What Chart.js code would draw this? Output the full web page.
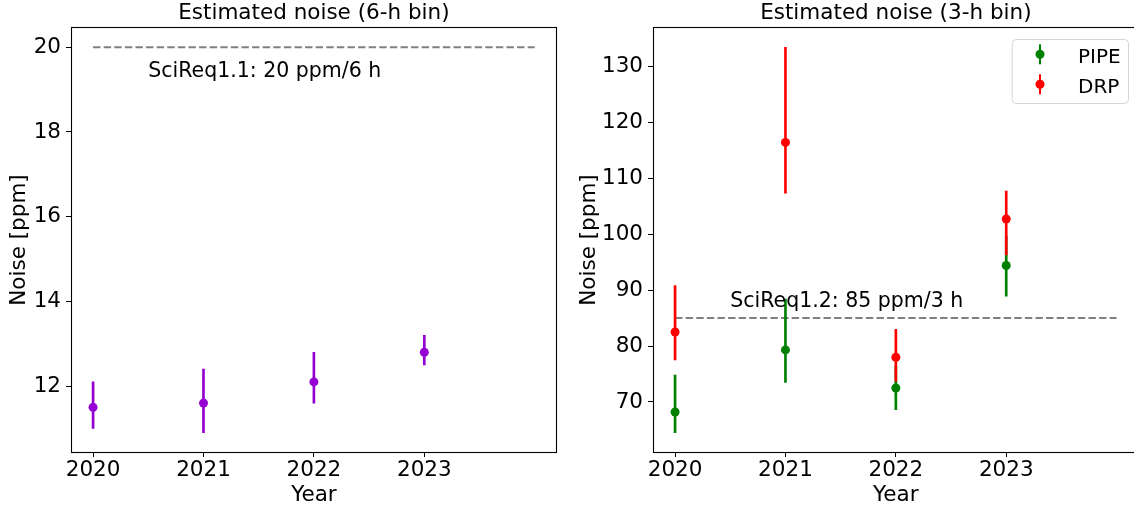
<!DOCTYPE html>
<html>
<head>
<meta charset="utf-8">
<script src="https://cdn.jsdelivr.net/npm/chart.js@4"></script>
<style>
  html, body { margin: 0; padding: 0; background: #fff; overflow: hidden; width: 1134px; height: 508px; }
  #left { position: absolute; left: 0; top: 0; }
  #right { position: absolute; left: 567px; top: 0; }
</style>
</head>
<body>
<canvas id="left" width="567" height="508"></canvas>
<canvas id="right" width="580" height="508"></canvas>
<script>
// data
const years = [2020, 2021, 2022, 2023];

const noise6h = [11.5, 11.6, 12.1, 12.8];
const noise6hLow = [11.0, 10.9, 11.6, 12.5];
const noise6hHigh = [12.1, 12.4, 12.8, 13.2];

const pipe3h = [68.2, 79.3, 72.5, 94.4];
const pipe3hLow = [64.5, 73.5, 68.6, 88.9];
const pipe3hHigh = [74.8, 88.4, 76.4, 99.7];

const drp3h = [82.5, 116.4, 78.0, 102.7];
const drp3hLow = [77.5, 107.3, 73.7, 96.3];
const drp3hHigh = [90.8, 133.4, 83.0, 107.7];

const reqSpan = [2020, 2024];
const req6h = 20;
const req3h = 85;
const req6hText = "SciReq1.1: 20 ppm/6 h";
const req3hText = "SciReq1.2: 85 ppm/3 h";

const leftTicks = [12, 14, 16, 18, 20];
const rightTicks = [70, 80, 90, 100, 110, 120, 130];

const FONT = "'DejaVu Sans', sans-serif";
const FS = 21.5;      // ticks, axis titles, panel titles
const FS_NOTE = 20.5; // requirement labels
const FS_LEG = 20;    // legend
const DOT = 4.5;
Chart.defaults.font.family = FONT;
Chart.defaults.font.size = FS;
Chart.defaults.color = "#000";

// matplotlib style 5% margins
function padded(lo, hi) {
  const m = (hi - lo) * 0.05;
  return [lo - m, hi + m];
}

const xRange = padded(Math.min(...years, reqSpan[0]), Math.max(...years, reqSpan[1]));

function errorBars(low, high, color, order) {
  return {
    type: "bar",
    data: years.map((x, i) => ({ x: x, y: [low[i], high[i]] })),
    backgroundColor: color,
    borderWidth: 0,
    barThickness: 2,
    grouped: false,
    order: order,
  };
}

function points(vals, color, label, order) {
  return {
    type: "scatter",
    label: label,
    data: years.map((x, i) => ({ x: x, y: vals[i] })),
    backgroundColor: color,
    borderWidth: 0,
    pointRadius: DOT,
    pointHoverRadius: DOT,
    order: order,
  };
}

function reqLine(y) {
  return {
    type: "line",
    data: reqSpan.map((x) => ({ x: x, y: y })),
    borderColor: "grey",
    borderWidth: 2,
    borderDash: [7.4, 3.2],
    pointRadius: 0,
    fill: false,
    order: 9,
  };
}

function scales(yRange, yTicks, yWidth, yTitlePad) {
  return {
    x: {
      type: "linear",
      min: xRange[0],
      max: xRange[1],
      offset: false,
      afterBuildTicks: (s) => { s.ticks = years.map((v) => ({ value: v })); },
      afterFit: (s) => { s.height = 56; },
      grid: { display: true, drawOnChartArea: false, drawTicks: true, tickLength: 5, tickColor: "#000", tickWidth: 1, offset: false },
      border: { display: false },
      ticks: { padding: 0.7, maxRotation: 0, autoSkip: false, callback: (v) => String(v) },
      title: { display: true, text: "Year", padding: { top: 0, bottom: 0 } },
    },
    y: {
      type: "linear",
      min: yRange[0],
      max: yRange[1],
      beginAtZero: false,
      afterBuildTicks: (s) => { s.ticks = yTicks.map((v) => ({ value: v })); },
      afterFit: (s) => { s.width = yWidth; },
      grid: { display: true, drawOnChartArea: false, drawTicks: true, tickLength: 5, tickColor: "#000", tickWidth: 1 },
      border: { display: false },
      ticks: { padding: 5, callback: (v) => String(v) },
      title: { display: true, text: "Noise [ppm]", padding: { top: yTitlePad, bottom: 0 } },
    },
  };
}

const frame = {
  id: "frame",
  afterDatasetsDraw(chart) {
    const a = chart.chartArea;
    const c = chart.ctx;
    const x0 = Math.round(a.left) + 0.5, y0 = Math.round(a.top) - 0.5;
    const x1 = Math.round(a.right) - 0.5, y1 = Math.round(a.bottom) + 0.5;
    c.save();
    c.strokeStyle = "#000";
    c.lineWidth = 1.1;
    c.strokeRect(x0, y0, x1 - x0, y1 - y0);
    c.restore();
  },
};

const reqLabel = {
  id: "reqLabel",
  afterDraw(chart, args, opts) {
    if (!opts || !opts.text) return;
    const c = chart.ctx;
    c.save();
    c.font = FS_NOTE + "px " + FONT;
    c.fillStyle = "#000";
    c.textAlign = "left";
    c.textBaseline = "alphabetic";
    c.fillText(opts.text, chart.scales.x.getPixelForValue(opts.x), chart.scales.y.getPixelForValue(opts.y));
    c.restore();
  },
};

const errLegend = {
  id: "errLegend",
  afterDraw(chart, args, opts) {
    if (!opts || !opts.show) return;
    const a = chart.chartArea;
    const c = chart.ctx;
    const left = a.right - 127, top = a.top + 11, w = 116.3, h = 64;
    c.save();
    c.beginPath();
    c.roundRect(left + 0.5, top + 0.5, w, h, 4);
    c.fillStyle = "rgba(255,255,255,0.8)";
    c.fill();
    c.strokeStyle = "rgba(204,204,204,0.8)";
    c.lineWidth = 1;
    c.stroke();
    const items = chart.data.datasets.filter((d) => d.type === "scatter" && d.label);
    items.forEach((d, i) => {
      const cy = top + 15.3 + i * 30;
      const cx = left + 28.3;
      c.fillStyle = d.backgroundColor;
      c.fillRect(cx - 1, cy - 10, 2, 20);
      c.beginPath();
      c.arc(cx, cy, DOT, 0, Math.PI * 2);
      c.fill();
      c.fillStyle = "#000";
      c.font = FS_LEG + "px " + FONT;
      c.textAlign = "left";
      c.textBaseline = "alphabetic";
      c.fillText(d.label, left + 66.3, cy + 8.4);
    });
    c.restore();
  },
};

function baseOptions(title, yRange, yTicks, yWidth, yTitlePad, padRight, label, legend) {
  return {
    responsive: false,
    animation: false,
    events: [],
    layout: { padding: { left: 0, right: padRight, top: 0, bottom: 0 } },
    scales: scales(yRange, yTicks, yWidth, yTitlePad),
    plugins: {
      legend: { display: false },
      tooltip: { enabled: false },
      title: { display: true, text: title, fullSize: false, padding: { top: 0.7, bottom: 1.5 }, font: { size: FS, weight: "normal" } },
      reqLabel: label,
      errLegend: { show: legend },
    },
  };
}

// left panel: 6-h bin
const leftRange = padded(Math.min(...noise6hLow, req6h), Math.max(...noise6hHigh, req6h));
new Chart(document.getElementById("left"), {
  type: "scatter",
  data: {
    datasets: [
      reqLine(req6h),
      errorBars(noise6hLow, noise6hHigh, "darkviolet", 2),
      points(noise6h, "darkviolet", "", 1),
    ],
  },
  options: baseOptions("Estimated noise (6-h bin)", leftRange, leftTicks, 71, 6.4, 10.2,
    { x: 2020.5, y: 19.3, text: req6hText }, false),
  plugins: [frame, reqLabel, errLegend],
});

// right panel: 3-h bin
const rightRange = padded(Math.min(...pipe3hLow, ...drp3hLow, req3h), Math.max(...pipe3hHigh, ...drp3hHigh, req3h));
new Chart(document.getElementById("right"), {
  type: "scatter",
  data: {
    datasets: [
      reqLine(req3h),
      errorBars(pipe3hLow, pipe3hHigh, "green", 4),
      points(pipe3h, "green", "PIPE", 3),
      errorBars(drp3hLow, drp3hHigh, "red", 2),
      points(drp3h, "red", "DRP", 1),
    ],
  },
  options: baseOptions("Estimated noise (3-h bin)", rightRange, rightTicks, 86, 9.1, 8.3,
    { x: 2020.5, y: 87, text: req3hText }, true),
  plugins: [frame, reqLabel, errLegend],
});
</script>
</body>
</html>
